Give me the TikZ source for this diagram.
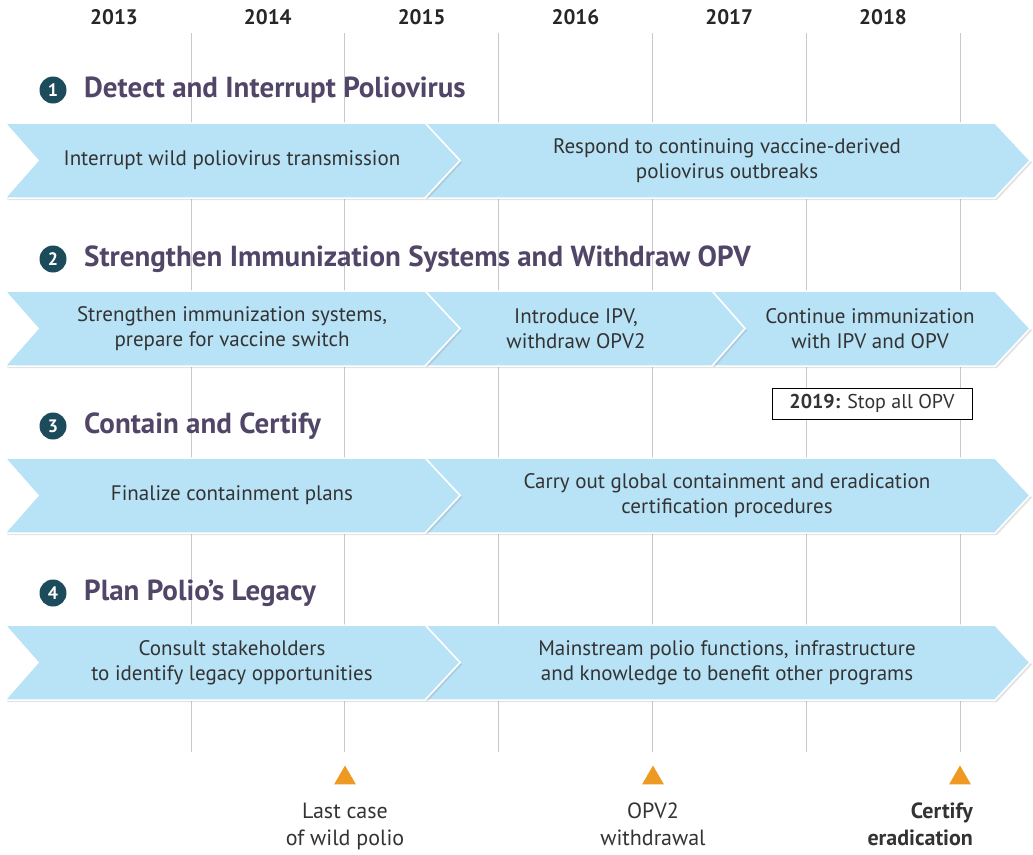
\documentclass[tikz,border=0pt]{standalone}
\usepackage{fontspec}
\setmainfont{PT Sans}
\usetikzlibrary{positioning, shapes.geometric, shadows}
\definecolor{cblue}{HTML}{B8E2F6}
\definecolor{cteal}{HTML}{1C4C5C}
\definecolor{cplum}{HTML}{524668}
\definecolor{corange}{HTML}{EE9A22}
\definecolor{cgrid}{HTML}{C8C8C8}
\definecolor{ctext}{HTML}{333333}
\tikzset{
  chev/.style={fill=cblue, draw=white, line width=1.5pt,
    drop shadow={opacity=0.22, shadow xshift=2pt, shadow yshift=-2pt}},
  chevtext/.style={font=\fontsize{21}{25}\selectfont, text=ctext, align=center},
  year/.style={font=\bfseries\fontsize{21}{22}\selectfont, text=black!85},
  head/.style={font=\bfseries\fontsize{29}{31}\selectfont, text=cplum, anchor=west},
  num/.style={circle, fill=cteal, text=white, inner sep=0pt, minimum size=27pt,
    font=\bfseries\fontsize{18}{18}\selectfont},
  milestone/.style={regular polygon, regular polygon sides=3, fill=corange,
    inner sep=0pt, minimum size=25pt},
  mlabel/.style={font=\fontsize{22}{27}\selectfont, text=ctext, align=center}
}

\begin{document}
\begin{tikzpicture}[x=1pt, y=-1pt]
\useasboundingbox (0,0) rectangle (1033,854);

% years and grid
\foreach \i/\yr in {0/2013, 1/2014, 2/2015, 3/2016, 4/2017, 5/2018} {
  \node[year] (y\yr) at (114+153.8*\i, 17) {\yr};
  \draw[cgrid, line width=1pt] (191+153.8*\i, 33) -- (191+153.8*\i, 752);
}

% 1
\node[num] (n1) at (53,90) {1};
\node[head, right=14pt of n1] (h1) {Detect and Interrupt Poliovirus};
\draw[chev] (425,123) -- (995,123) -- (1030,160.5) -- (995,198) -- (425,198) -- (460,160.5) -- cycle;
\draw[chev] (5,123) -- (425,123) -- (460,160.5) -- (425,198) -- (5,198) -- (38,160.5) -- cycle;
\node[chevtext] (t1a) at (232,160.5) {Interrupt wild poliovirus transmission};
\node[chevtext] (t1b) at (727,160.5) {Respond to continuing vaccine-derived\\poliovirus outbreaks};

% 2
\node[num] (n2) at (53,259) {2};
\node[head, right=14pt of n2] (h2) {Strengthen Immunization Systems and Withdraw OPV};
\draw[chev] (712,291) -- (995,291) -- (1030,328.5) -- (995,366) -- (712,366) -- (745,328.5) -- cycle;
\draw[chev] (425,291) -- (712,291) -- (745,328.5) -- (712,366) -- (425,366) -- (460,328.5) -- cycle;
\draw[chev] (5,291) -- (425,291) -- (460,328.5) -- (425,366) -- (5,366) -- (38,328.5) -- cycle;
\node[chevtext] (t2a) at (232,328.5) {Strengthen immunization systems,\\prepare for vaccine switch};
\node[chevtext] (t2b) at (576,328.5) {Introduce IPV,\\withdraw OPV2};
\node[chevtext] (t2c) at (870,328.5) {Continue immunization\\with IPV and OPV};
\node[draw=black, fill=white, line width=1pt, minimum width=200pt, minimum height=31pt,
  font=\fontsize{20}{22}\selectfont, text=ctext] (stop) at (872,403.5) {\textbf{2019:} Stop all OPV};

% 3
\node[num] (n3) at (53,426) {3};
\node[head, right=14pt of n3] (h3) {Contain and Certify};
\draw[chev] (425,458) -- (995,458) -- (1030,495.5) -- (995,533) -- (425,533) -- (460,495.5) -- cycle;
\draw[chev] (5,458) -- (425,458) -- (460,495.5) -- (425,533) -- (5,533) -- (38,495.5) -- cycle;
\node[chevtext] (t3a) at (232,495.5) {Finalize containment plans};
\node[chevtext] (t3b) at (727,495.5) {Carry out global containment and eradication\\certification procedures};

% 4
\node[num] (n4) at (53,593) {4};
\node[head, right=14pt of n4] (h4) {Plan Polio’s Legacy};
\draw[chev] (425,625) -- (995,625) -- (1030,662.5) -- (995,700) -- (425,700) -- (460,662.5) -- cycle;
\draw[chev] (5,625) -- (425,625) -- (460,662.5) -- (425,700) -- (5,700) -- (38,662.5) -- cycle;
\node[chevtext] (t4a) at (232,662.5) {Consult stakeholders\\to identify legacy opportunities};
\node[chevtext] (t4b) at (727,662.5) {Mainstream polio functions, infrastructure\\and knowledge to benefit other programs};

% milestones
\node[milestone] (m1) at (345,778) {};
\node[milestone] (m2) at (653,778) {};
\node[milestone] (m3) at (960,778) {};
\node[mlabel, below=15pt of m1] (l1) {Last case\\of wild polio};
\node[mlabel, below=15pt of m2] (l2) {OPV2\\withdrawal};
\node[mlabel, below=15pt of m3.south east, anchor=north east, xshift=10pt, align=right,
  font=\bfseries\fontsize{22}{27}\selectfont] (l3) {Certify\\eradication};

\end{tikzpicture}
\end{document}
